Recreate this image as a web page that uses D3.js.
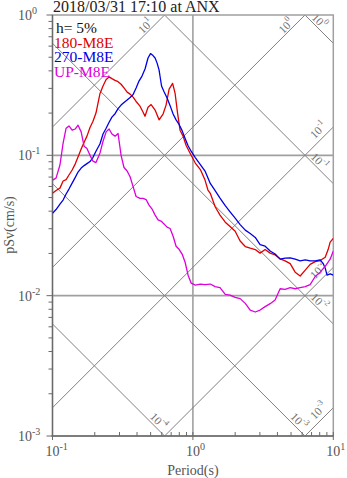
<!DOCTYPE html>
<html><head><meta charset="utf-8">
<script src="https://cdn.jsdelivr.net/npm/d3@7"></script>
<style>
body{margin:0;background:#fff}
svg{display:block}
text{font-family:"Liberation Serif","Times New Roman",serif}
</style>
</head><body>
<svg id="chart" width="347" height="478"></svg>
<script>
// Pseudo-velocity response spectra, 5% damping, tripartite log-log grid
const titleText = "2018/03/31 17:10 at ANX";
const dampingText = "h= 5%";
const seriesNames = ["180-M8E", "270-M8E", "UP-M8E"];
const seriesColors = ["#e00000", "#0000e6", "#dd00dd"];

// 180-M8E component: period (s), pSv (cm/s)
const periods180 = [0.100,0.106,0.113,0.119,0.125,0.131,0.138,0.145,0.152,0.160,
  0.168,0.176,0.185,0.194,0.204,0.218,0.229,0.241,0.253,0.265,
  0.279,0.293,0.308,0.323,0.340,0.357,0.375,0.394,
  0.420,0.442,0.456,0.479,0.504,0.538,0.574,0.613,0.644,0.677,
  0.717,0.747,0.778,0.810,0.851,0.894,0.939,0.987,
  1.04,1.13,1.22,1.28,1.33,1.44,1.56,1.70,1.84,2.00,2.17,
  2.36,2.56,2.78,3.01,3.27,3.55,3.85,4.18,4.54,4.93,
  5.35,5.81,6.31,6.84,7.43,8.07,8.76,9.20,9.50,10.0];
const psv180 = [0.0536,0.0561,0.0584,0.0656,0.0672,0.0724,0.0786,0.0866,0.0973,0.111,
  0.124,0.137,0.158,0.174,0.200,0.276,0.312,0.347,0.362,0.352,
  0.342,0.335,0.321,0.302,0.282,0.273,0.260,0.242,
  0.224,0.203,0.190,0.220,0.230,0.210,0.179,0.197,0.228,0.296,
  0.326,0.276,0.199,0.151,0.137,0.118,0.107,0.0973,
  0.0881,0.0792,0.0666,0.0566,0.0536,0.0430,0.0375,0.0334,0.0311,0.0288,0.0245,
  0.0224,0.0218,0.0213,0.0201,0.0213,0.0201,0.0195,0.0183,0.0177,0.0169,
  0.0147,0.0138,0.0152,0.0167,0.0175,0.0178,0.0188,0.0214,0.0241,0.0256];

// 270-M8E component
const periods270 = [0.100,0.106,0.113,0.119,0.125,0.131,0.138,0.145,0.152,0.160,
  0.168,0.176,0.185,0.194,0.204,0.218,0.229,0.241,0.253,0.265,
  0.279,0.293,0.308,0.323,0.340,0.357,0.375,0.394,
  0.413,0.434,0.456,0.479,0.499,0.520,0.538,0.556,0.574,0.584,0.598,
  0.623,0.655,0.688,0.723,0.759,0.797,0.838,0.880,0.924,0.971,
  1.04,1.13,1.22,1.33,1.44,1.56,1.70,1.84,2.00,2.17,
  2.36,2.56,2.78,3.01,3.27,3.55,3.85,4.18,4.54,4.93,
  5.35,5.81,6.31,6.84,7.43,8.07,8.45,8.76,9.02,9.50,10.0];
const psv270 = [0.0386,0.0411,0.0449,0.0480,0.0530,0.0575,0.0634,0.0694,0.0760,0.0812,
  0.0845,0.0873,0.0903,0.0964,0.107,0.121,0.142,0.156,0.172,0.187,
  0.198,0.215,0.228,0.238,0.248,0.258,0.271,0.302,
  0.338,0.367,0.412,0.494,0.531,0.514,0.494,0.454,0.406,0.363,0.312,
  0.284,0.256,0.226,0.197,0.179,0.166,0.150,0.132,0.117,0.107,
  0.0964,0.0859,0.0773,0.0631,0.0561,0.0496,0.0438,0.0396,0.0357,0.0321,
  0.0293,0.0277,0.0260,0.0231,0.0225,0.0208,0.0198,0.0182,0.0185,0.0186,
  0.0182,0.0177,0.0180,0.0177,0.0177,0.0180,0.0170,0.0157,0.0140,0.0143,0.0140];

// UP-M8E component
const periodsUP = [0.100,0.106,0.113,0.119,0.125,0.131,0.138,0.145,0.152,0.160,
  0.168,0.176,0.185,0.194,0.204,0.218,0.229,0.241,0.253,0.265,
  0.279,0.293,0.308,0.323,0.340,0.357,0.375,0.394,
  0.420,0.442,0.464,0.487,0.512,0.538,0.565,0.593,0.623,0.655,
  0.688,0.723,0.759,0.797,0.838,0.880,0.924,0.971,
  1.04,1.13,1.22,1.33,1.44,1.56,1.70,1.84,2.00,2.17,
  2.36,2.56,2.78,3.01,3.27,3.55,3.85,4.18,4.54,4.93,
  5.35,5.81,6.31,6.84,7.43,8.07,8.76,9.50,10.0];
const psvUP = [0.0666,0.0688,0.0853,0.122,0.156,0.162,0.151,0.154,0.164,0.147,
  0.116,0.112,0.100,0.0910,0.0888,0.104,0.126,0.147,0.154,0.142,
  0.137,0.143,0.100,0.0819,0.0773,0.0703,0.0599,0.0509,
  0.0494,0.0494,0.0484,0.0442,0.0414,0.0375,0.0347,0.0340,0.0324,0.0308,
  0.0301,0.0265,0.0225,0.0214,0.0198,0.0173,0.0140,0.0123,
  0.0119,0.0121,0.0120,0.0121,0.0116,0.0114,0.0102,0.0101,0.00973,0.00953,
  0.00881,0.00790,0.00765,0.00790,0.00835,0.00877,0.00930,0.0112,0.0111,0.0114,
  0.0112,0.0114,0.0116,0.0120,0.0137,0.0147,0.0162,0.0182,0.0208];

// Axis decades (exponents of ten) and tripartite guide lines
const periodExps = [-1, 0, 1];
const velocityExps = [0, -1, -2, -3];
const accelExps = [1, 0, -1, -2, -3];   // pSa = 10^k cm/s^2
const dispExps = [0, -1, -2, -3, -4];   // Sd = 10^k cm
const xLabel = "Period(s)";
const yLabel = "pSv(cm/s)";

const plot = {left: 52.5, right: 333.3, top: 15, bottom: 436};
const x = d3.scaleLog().domain([0.1, 10]).range([plot.left, plot.right]);
const y = d3.scaleLog().domain([0.001, 1]).range([plot.bottom, plot.top]);
const TWO_PI = 2 * Math.PI;

const svg = d3.select("#chart");
svg.append("defs").append("clipPath").attr("id", "plotClip")
  .append("rect").attr("x", plot.left).attr("y", plot.top)
  .attr("width", plot.right - plot.left).attr("height", plot.bottom - plot.top);

const gridColor = "#a0a0a0", diagColor = "#808080", axisColor = "#6a6a6a", labelColor = "#555";

// main decade grid
const grid = svg.append("g").attr("clip-path", "url(#plotClip)");
periodExps.slice(1, -1).forEach(e => {
  grid.append("line").attr("x1", x(10 ** e)).attr("x2", x(10 ** e))
    .attr("y1", plot.top).attr("y2", plot.bottom)
    .attr("stroke", gridColor).attr("stroke-width", 1.6);
});
velocityExps.slice(1, -1).forEach(e => {
  grid.append("line").attr("x1", plot.left).attr("x2", plot.right)
    .attr("y1", y(10 ** e)).attr("y2", y(10 ** e))
    .attr("stroke", gridColor).attr("stroke-width", 1.6);
});

// diagonal lines: constant acceleration (rising) and displacement (falling)
const [T0, T1] = x.domain();
accelExps.forEach(k => {
  const sa = 10 ** k;
  grid.append("line")
    .attr("x1", x(T0)).attr("y1", y(sa * T0 / TWO_PI))
    .attr("x2", x(T1)).attr("y2", y(sa * T1 / TWO_PI))
    .attr("stroke", diagColor).attr("stroke-width", 1);
});
dispExps.forEach(k => {
  const sd = 10 ** k;
  grid.append("line")
    .attr("x1", x(T0)).attr("y1", y(TWO_PI * sd / T0))
    .attr("x2", x(T1)).attr("y2", y(TWO_PI * sd / T1))
    .attr("stroke", diagColor).attr("stroke-width", 1);
});

function powerLabel(g, k, size) {
  g.append("tspan").text("10");
  g.append("tspan").attr("dy", -size * 0.42).attr("font-size", size * 0.72).text(k);
}

// labels of diagonal lines
const diagLabels = svg.append("g").attr("fill", "#707070").attr("font-size", 11.5);
accelExps.forEach(k => {
  const sa = 10 ** k;
  const tTop = TWO_PI / sa;             // where pSv reaches the top of the axis
  let cx, cy;
  if (tTop < T1) { cx = x(tTop) - 19; cy = plot.top + 19 - 8; }
  else { const ye = y(sa * T1 / TWO_PI); cx = plot.right - 15; cy = ye + 15 - 12; }
  const t = diagLabels.append("text").attr("text-anchor", "middle")
    .attr("dominant-baseline", "central")
    .attr("transform", `translate(${cx},${cy}) rotate(-45)`);
  powerLabel(t, k, 11.5);
});
dispExps.forEach(k => {
  const sd = 10 ** k;
  const tBot = TWO_PI * sd / 0.001;     // where pSv reaches the bottom of the axis
  let cx, cy;
  if (tBot < T1) { cx = x(tBot) - 6; cy = plot.bottom - 6 - 9; }
  else { const ye = y(TWO_PI * sd / T1); cx = plot.right - 14; cy = ye - 14 - 8.5; }
  const t = diagLabels.append("text").attr("text-anchor", "middle")
    .attr("dominant-baseline", "central")
    .attr("transform", `translate(${cx},${cy}) rotate(45)`);
  powerLabel(t, k, 11.5);
});

// frame
svg.append("rect").attr("x", plot.left).attr("y", plot.top)
  .attr("width", plot.right - plot.left).attr("height", plot.bottom - plot.top)
  .attr("fill", "none").attr("stroke", gridColor).attr("stroke-width", 1.5);

// left axis (ticks outward)
const yTicks = [];
for (let e = -3; e < 0; e++) for (let m = 1; m < 10; m++) yTicks.push(m * 10 ** e);
yTicks.push(1);
const axes = svg.append("g").attr("stroke", axisColor);
axes.append("line").attr("x1", plot.left).attr("x2", plot.left)
  .attr("y1", plot.top).attr("y2", plot.bottom + 1).attr("stroke-width", 1.3);
yTicks.forEach(v => {
  const major = Math.abs(Math.log10(v) - Math.round(Math.log10(v))) < 1e-9;
  axes.append("line").attr("x1", plot.left - (major ? 6 : 4)).attr("x2", plot.left)
    .attr("y1", y(v)).attr("y2", y(v)).attr("stroke-width", 1);
});
// bottom axis (ticks inward)
const xTicks = [];
for (let e = -1; e < 1; e++) for (let m = 1; m < 10; m++) xTicks.push(m * 10 ** e);
xTicks.push(10);
axes.append("line").attr("x1", plot.left - 1).attr("x2", plot.right)
  .attr("y1", plot.bottom).attr("y2", plot.bottom).attr("stroke-width", 1.3);
xTicks.forEach(v => {
  const major = Math.abs(Math.log10(v) - Math.round(Math.log10(v))) < 1e-9;
  axes.append("line").attr("x1", x(v)).attr("x2", x(v))
    .attr("y1", plot.bottom - 4).attr("y2", plot.bottom + (major ? 4 : 0)).attr("stroke-width", 1);
});

// tick labels
const tickLabels = svg.append("g").attr("fill", labelColor).attr("font-size", 14);
velocityExps.forEach(e => {
  const t = tickLabels.append("text").attr("x", 18).attr("y", y(10 ** e) + 5);
  powerLabel(t, e, 14);
});
periodExps.forEach(e => {
  const t = tickLabels.append("text").attr("x", x(10 ** e) - 7).attr("y", 456);
  powerLabel(t, e, 14);
});
tickLabels.append("text").attr("x", (plot.left + plot.right) / 2).attr("y", 475)
  .attr("text-anchor", "middle").text(xLabel);
tickLabels.append("text").attr("transform", `translate(14,225) rotate(-90)`)
  .attr("text-anchor", "middle").text(yLabel);

// spectra
const line = d3.line().x(d => x(d[0])).y(d => y(d[1]));
const series = [
  d3.zip(periods180, psv180),
  d3.zip(periods270, psv270),
  d3.zip(periodsUP, psvUP)
];
const curves = svg.append("g").attr("clip-path", "url(#plotClip)");
series.forEach((pts, i) => {
  curves.append("path").datum(pts).attr("d", line)
    .attr("fill", "none").attr("stroke", seriesColors[i]).attr("stroke-width", 1.3)
    .attr("stroke-linejoin", "round");
});

// title and legend
svg.append("text").attr("x", 53).attr("y", 12).attr("font-size", 16)
  .attr("fill", "#222").text(titleText);
const legend = svg.append("g").attr("font-size", 15.5);
legend.append("text").attr("x", 56).attr("y", 33).attr("fill", "#111").text(dampingText);
seriesNames.forEach((n, i) => {
  legend.append("text").attr("x", 54).attr("y", 47.7 + i * 14.7)
    .attr("fill", seriesColors[i]).text(n);
});
</script>
</body></html>
